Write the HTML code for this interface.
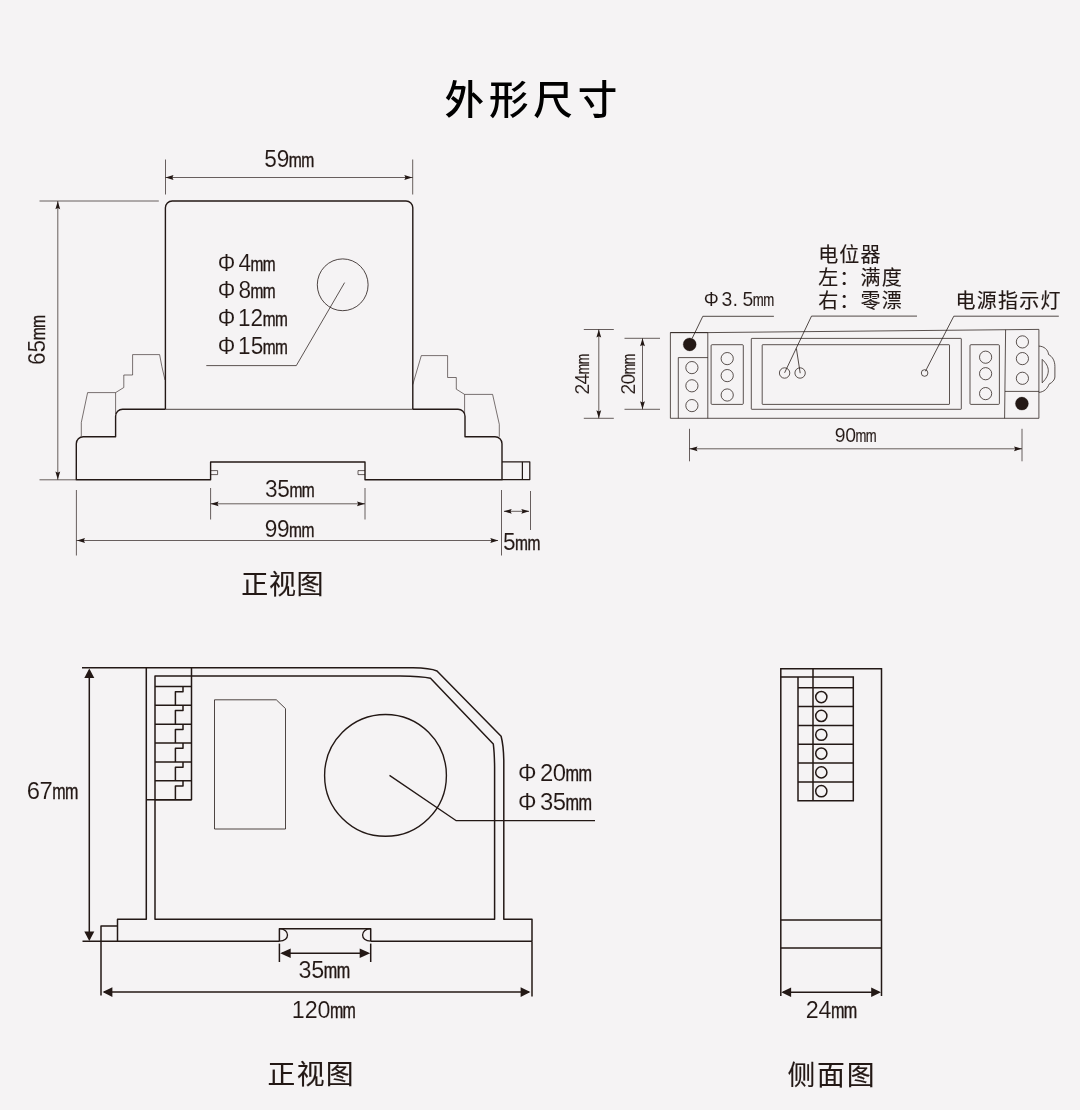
<!DOCTYPE html>
<html lang="zh-CN">
<head>
<meta charset="utf-8">
<title>外形尺寸</title>
<style>
html,body{margin:0;padding:0;background:#f5f3f4;}
body{width:1080px;height:1110px;overflow:hidden;}
svg{display:block;font-family:"Liberation Sans","Noto Sans CJK SC",sans-serif;will-change:transform;}
</style>
</head>
<body>
<svg width="1080" height="1110" viewBox="0 0 1080 1110">
<rect x="0" y="0" width="1080" height="1110" fill="#f5f3f4"/>
<text x="444.5" y="113.7" font-size="39.6" letter-spacing="4.8" fill="#000" font-weight="500">外形尺寸</text>
<g stroke-linecap="butt" stroke-linejoin="round">
<path d="M165.4,409.3 V207.8 A6.8,6.8 0 0 1 172.2,201 H406 A6.8,6.8 0 0 1 412.8,207.8 V409.3" fill="none" stroke="#231815" stroke-width="1.4" />
<path d="M165.4,409.3 H122.6 A7,7 0 0 0 115.6,416.3 V436.8 H83.3 A7,7 0 0 0 76.3,443.8 V479.8 H210.6 V462 H365 V479.8 H502 V443.8 A7,7 0 0 0 495,436.8 H465 V416.3 A7,7 0 0 0 458,409.3 H412.8" fill="none" stroke="#231815" stroke-width="1.4" />
<line x1="165.4" y1="409.3" x2="412.8" y2="409.3" stroke="#231815" stroke-width="0.8" />
<path d="M502,461.9 H529.8 V479.5 H502" fill="none" stroke="#231815" stroke-width="1.25" />
<line x1="522.4" y1="461.9" x2="522.4" y2="479.5" stroke="#231815" stroke-width="1.25" />
<path d="M210.6,470.6 H217.6 V474.6 H210.6" fill="none" stroke="#231815" stroke-width="0.68" />
<path d="M365,470.6 H358 V474.6 H365" fill="none" stroke="#231815" stroke-width="0.68" />
<path d="M165,380 Q161.5,366 159.6,354.6 H132.6 V375 H123.8 V387.5 L115.6,392.6 H87.6 L81.3,422.5 V436.2" fill="none" stroke="#231815" stroke-width="0.6" />
<line x1="115.6" y1="392.6" x2="115.6" y2="414" stroke="#231815" stroke-width="0.6" />
<path d="M412.8,384.5 L421.3,355.6 H447.6 V377.5 H456.3 V389.2 L464.6,394.4 H492.6 L499.3,424.3 V436.8" fill="none" stroke="#231815" stroke-width="0.6" />
<line x1="464.6" y1="394.4" x2="464.6" y2="414" stroke="#231815" stroke-width="0.6" />
<ellipse cx="342.7" cy="284.8" rx="25.4" ry="25.9" fill="none" stroke="#231815" stroke-width="0.8"/>
<path d="M344.6,282.6 L296.3,365.6 H206.3" fill="none" stroke="#231815" stroke-width="0.7300000000000001" />
<line x1="165.5" y1="159.5" x2="165.5" y2="194.5" stroke="#231815" stroke-width="0.68" />
<line x1="412.7" y1="159.5" x2="412.7" y2="194.5" stroke="#231815" stroke-width="0.68" />
<line x1="165.5" y1="177.5" x2="412.7" y2="177.5" stroke="#231815" stroke-width="0.68" />
<polygon points="165.50,177.50 173.50,175.10 172.30,177.50 173.50,179.90" fill="#231815"/>
<polygon points="412.30,177.50 404.30,179.90 405.50,177.50 404.30,175.10" fill="#231815"/>
<line x1="39.5" y1="201" x2="158.8" y2="201" stroke="#231815" stroke-width="0.68" />
<line x1="39.5" y1="479.8" x2="76" y2="479.8" stroke="#231815" stroke-width="0.68" />
<line x1="57.8" y1="201" x2="57.8" y2="479.8" stroke="#231815" stroke-width="0.68" />
<polygon points="57.80,201.20 60.20,209.20 57.80,208.00 55.40,209.20" fill="#231815"/>
<polygon points="57.80,479.60 55.40,471.60 57.80,472.80 60.20,471.60" fill="#231815"/>
<line x1="210.6" y1="488" x2="210.6" y2="519.5" stroke="#231815" stroke-width="0.68" />
<line x1="365" y1="488" x2="365" y2="519.5" stroke="#231815" stroke-width="0.68" />
<line x1="210.6" y1="503.8" x2="365" y2="503.8" stroke="#231815" stroke-width="0.68" />
<polygon points="210.60,503.80 218.60,501.40 217.40,503.80 218.60,506.20" fill="#231815"/>
<polygon points="365.00,503.80 357.00,506.20 358.20,503.80 357.00,501.40" fill="#231815"/>
<line x1="76.4" y1="490" x2="76.4" y2="555.5" stroke="#231815" stroke-width="0.68" />
<line x1="501.5" y1="490" x2="501.5" y2="555.5" stroke="#231815" stroke-width="0.68" />
<line x1="76.4" y1="540.5" x2="498" y2="540.5" stroke="#231815" stroke-width="0.68" />
<polygon points="77.00,540.50 85.00,538.10 83.80,540.50 85.00,542.90" fill="#231815"/>
<polygon points="498.30,540.50 490.30,542.90 491.50,540.50 490.30,538.10" fill="#231815"/>
<line x1="530.5" y1="491" x2="530.5" y2="530" stroke="#231815" stroke-width="0.68" />
<line x1="504" y1="511.3" x2="529" y2="511.3" stroke="#231815" stroke-width="0.68" />
<polygon points="503.70,511.30 511.70,508.90 510.50,511.30 511.70,513.70" fill="#231815"/>
<polygon points="529.30,511.30 521.30,513.70 522.50,511.30 521.30,508.90" fill="#231815"/>
</g>
<text y="166.7" font-size="23.3" fill="#231815"><tspan x="264.34" textLength="12.57" lengthAdjust="spacingAndGlyphs" stroke="#f5f3f4" stroke-width="0.1">5</tspan><tspan x="276.72" textLength="12.57" lengthAdjust="spacingAndGlyphs" stroke="#f5f3f4" stroke-width="0.1">9</tspan><tspan x="288.87" textLength="13.05" lengthAdjust="spacingAndGlyphs" font-size="20.62" stroke="#231815" stroke-width="0.42">m</tspan><tspan x="301.27" textLength="13.05" lengthAdjust="spacingAndGlyphs" font-size="20.62" stroke="#231815" stroke-width="0.42">m</tspan></text>
<text y="364.8" font-size="23.3" fill="#231815" transform="rotate(-90 45 364.8)"><tspan x="44.84" textLength="12.57" lengthAdjust="spacingAndGlyphs" stroke="#f5f3f4" stroke-width="0.1">6</tspan><tspan x="57.34" textLength="12.57" lengthAdjust="spacingAndGlyphs" stroke="#f5f3f4" stroke-width="0.1">5</tspan><tspan x="69.47" textLength="13.05" lengthAdjust="spacingAndGlyphs" font-size="20.62" stroke="#231815" stroke-width="0.42">m</tspan><tspan x="81.87" textLength="13.05" lengthAdjust="spacingAndGlyphs" font-size="20.62" stroke="#231815" stroke-width="0.42">m</tspan></text>
<text y="271.1" font-size="23.3" fill="#231815"><tspan x="217.63" textLength="17.53" lengthAdjust="spacingAndGlyphs" stroke="#f5f3f4" stroke-width="0.1">Φ</tspan><tspan x="238.49" textLength="12.57" lengthAdjust="spacingAndGlyphs" stroke="#f5f3f4" stroke-width="0.1">4</tspan><tspan x="250.48" textLength="12.84" lengthAdjust="spacingAndGlyphs" font-size="20.62" stroke="#231815" stroke-width="0.42">m</tspan><tspan x="262.68" textLength="12.84" lengthAdjust="spacingAndGlyphs" font-size="20.62" stroke="#231815" stroke-width="0.42">m</tspan></text>
<text y="298.3" font-size="23.3" fill="#231815"><tspan x="217.63" textLength="17.53" lengthAdjust="spacingAndGlyphs" stroke="#f5f3f4" stroke-width="0.1">Φ</tspan><tspan x="238.42" textLength="12.57" lengthAdjust="spacingAndGlyphs" stroke="#f5f3f4" stroke-width="0.1">8</tspan><tspan x="250.48" textLength="12.84" lengthAdjust="spacingAndGlyphs" font-size="20.62" stroke="#231815" stroke-width="0.42">m</tspan><tspan x="262.68" textLength="12.84" lengthAdjust="spacingAndGlyphs" font-size="20.62" stroke="#231815" stroke-width="0.42">m</tspan></text>
<text y="326.1" font-size="23.3" fill="#231815"><tspan x="217.63" textLength="17.53" lengthAdjust="spacingAndGlyphs" stroke="#f5f3f4" stroke-width="0.1">Φ</tspan><tspan x="238.11" textLength="12.57" lengthAdjust="spacingAndGlyphs" stroke="#f5f3f4" stroke-width="0.1">1</tspan><tspan x="250.62" textLength="12.57" lengthAdjust="spacingAndGlyphs" stroke="#f5f3f4" stroke-width="0.1">2</tspan><tspan x="262.68" textLength="12.84" lengthAdjust="spacingAndGlyphs" font-size="20.62" stroke="#231815" stroke-width="0.42">m</tspan><tspan x="274.88" textLength="12.84" lengthAdjust="spacingAndGlyphs" font-size="20.62" stroke="#231815" stroke-width="0.42">m</tspan></text>
<text y="353.9" font-size="23.3" fill="#231815"><tspan x="217.63" textLength="17.53" lengthAdjust="spacingAndGlyphs" stroke="#f5f3f4" stroke-width="0.1">Φ</tspan><tspan x="238.11" textLength="12.57" lengthAdjust="spacingAndGlyphs" stroke="#f5f3f4" stroke-width="0.1">1</tspan><tspan x="250.64" textLength="12.57" lengthAdjust="spacingAndGlyphs" stroke="#f5f3f4" stroke-width="0.1">5</tspan><tspan x="262.68" textLength="12.84" lengthAdjust="spacingAndGlyphs" font-size="20.62" stroke="#231815" stroke-width="0.42">m</tspan><tspan x="274.88" textLength="12.84" lengthAdjust="spacingAndGlyphs" font-size="20.62" stroke="#231815" stroke-width="0.42">m</tspan></text>
<text y="497.4" font-size="23.3" fill="#231815"><tspan x="265.03" textLength="12.57" lengthAdjust="spacingAndGlyphs" stroke="#f5f3f4" stroke-width="0.1">3</tspan><tspan x="277.29" textLength="12.57" lengthAdjust="spacingAndGlyphs" stroke="#f5f3f4" stroke-width="0.1">5</tspan><tspan x="289.38" textLength="12.94" lengthAdjust="spacingAndGlyphs" font-size="20.62" stroke="#231815" stroke-width="0.42">m</tspan><tspan x="301.68" textLength="12.94" lengthAdjust="spacingAndGlyphs" font-size="20.62" stroke="#231815" stroke-width="0.42">m</tspan></text>
<text y="536.6" font-size="23.3" fill="#231815"><tspan x="264.67" textLength="12.57" lengthAdjust="spacingAndGlyphs" stroke="#f5f3f4" stroke-width="0.1">9</tspan><tspan x="276.97" textLength="12.57" lengthAdjust="spacingAndGlyphs" stroke="#f5f3f4" stroke-width="0.1">9</tspan><tspan x="289.08" textLength="12.94" lengthAdjust="spacingAndGlyphs" font-size="20.62" stroke="#231815" stroke-width="0.42">m</tspan><tspan x="301.38" textLength="12.94" lengthAdjust="spacingAndGlyphs" font-size="20.62" stroke="#231815" stroke-width="0.42">m</tspan></text>
<text y="549.5" font-size="23.3" fill="#231815"><tspan x="502.99" textLength="12.57" lengthAdjust="spacingAndGlyphs" stroke="#f5f3f4" stroke-width="0.1">5</tspan><tspan x="515.08" textLength="12.94" lengthAdjust="spacingAndGlyphs" font-size="20.62" stroke="#231815" stroke-width="0.42">m</tspan><tspan x="527.38" textLength="12.94" lengthAdjust="spacingAndGlyphs" font-size="20.62" stroke="#231815" stroke-width="0.42">m</tspan></text>
<text x="241.2" y="593.9" font-size="27" letter-spacing="0.7" fill="#231815" font-weight="400" stroke="#231815" stroke-width="0.14" stroke-linejoin="round">正视图</text>
<g stroke-linejoin="round">
<path d="M670.4,332.6 V418.3 H1038.9 V329.4 L707.8,332.6 Z" fill="none" stroke="#231815" stroke-width="0.74" />
<line x1="707.8" y1="332.6" x2="707.8" y2="418.3" stroke="#231815" stroke-width="0.74" />
<line x1="670.4" y1="332.6" x2="707.8" y2="332.6" stroke="#231815" stroke-width="0.74" />
<path d="M678.3,418.3 V357.6 H707.8" fill="none" stroke="#231815" stroke-width="0.74" />
<circle cx="691.9" cy="367.6" r="6.1" fill="none" stroke="#231815" stroke-width="0.74"/>
<circle cx="691.9" cy="385.8" r="6.1" fill="none" stroke="#231815" stroke-width="0.74"/>
<circle cx="691.9" cy="405.6" r="6.1" fill="none" stroke="#231815" stroke-width="0.74"/>
<circle cx="689.7" cy="344.4" r="6.5" fill="#231815" stroke="#231815" stroke-width="0.3"/>
<rect x="711.1" y="344.7" width="32.2" height="59.7" rx="1" fill="none" stroke="#231815" stroke-width="0.74"/>
<circle cx="727.2" cy="358.6" r="6.1" fill="none" stroke="#231815" stroke-width="0.74"/>
<circle cx="727.2" cy="375.6" r="6.1" fill="none" stroke="#231815" stroke-width="0.74"/>
<circle cx="727.2" cy="395" r="6.1" fill="none" stroke="#231815" stroke-width="0.74"/>
<rect x="751.3" y="338.4" width="210" height="70.9" rx="0.5" fill="none" stroke="#231815" stroke-width="0.74"/>
<rect x="762.2" y="344.7" width="187.3" height="59.7" rx="0.5" fill="none" stroke="#231815" stroke-width="0.74"/>
<circle cx="784.6" cy="373" r="5.2" fill="none" stroke="#231815" stroke-width="0.74"/>
<circle cx="800.1" cy="373" r="5.2" fill="none" stroke="#231815" stroke-width="0.74"/>
<circle cx="924.6" cy="373" r="3.3" fill="none" stroke="#231815" stroke-width="0.74"/>
<rect x="970" y="344.7" width="29.4" height="59.7" rx="1" fill="none" stroke="#231815" stroke-width="0.74"/>
<circle cx="985.6" cy="357.2" r="6.1" fill="none" stroke="#231815" stroke-width="0.74"/>
<circle cx="985.6" cy="373.7" r="6.1" fill="none" stroke="#231815" stroke-width="0.74"/>
<circle cx="985.6" cy="393.6" r="6.1" fill="none" stroke="#231815" stroke-width="0.74"/>
<line x1="1005.6" y1="329.8" x2="1004.6" y2="418.3" stroke="#231815" stroke-width="0.74" />
<line x1="1005" y1="391.4" x2="1038.9" y2="391.4" stroke="#231815" stroke-width="0.74" />
<circle cx="1022.4" cy="341.9" r="6.1" fill="none" stroke="#231815" stroke-width="0.74"/>
<circle cx="1022.4" cy="358.6" r="6.1" fill="none" stroke="#231815" stroke-width="0.74"/>
<circle cx="1022.4" cy="378.3" r="6.1" fill="none" stroke="#231815" stroke-width="0.74"/>
<circle cx="1021.9" cy="403.6" r="6.5" fill="#231815" stroke="#231815" stroke-width="0.3"/>
<path d="M1038.9,346.1 C1044,346.3 1048,349.5 1048.6,354.6 C1052.5,356.5 1054.9,361 1054.9,366.5 V377 C1054.9,379.5 1052.5,382.5 1049,384.2 C1047.5,388.5 1044,392 1038.9,392.4" fill="none" stroke="#231815" stroke-width="0.74" />
<path d="M1042.2,359.4 V382.8 C1046.5,378.5 1048.3,374.5 1048.3,370.8 C1048.3,367 1046.5,363.5 1042.2,359.4 Z" fill="none" stroke="#231815" stroke-width="0.74" />
<path d="M773.9,316.3 H702.8 L692.2,338.3" fill="none" stroke="#231815" stroke-width="0.78" />
<path d="M917,316.1 H811.5 L784.6,372.8" fill="none" stroke="#231815" stroke-width="0.78" />
<line x1="796.4" y1="348.5" x2="800.2" y2="373.2" stroke="#231815" stroke-width="0.78" />
<path d="M1058.8,316.2 H953.8 L925.4,371.3" fill="none" stroke="#231815" stroke-width="0.78" />
<line x1="583.8" y1="329.5" x2="613.8" y2="329.5" stroke="#231815" stroke-width="0.68" />
<line x1="583.8" y1="418.3" x2="613.8" y2="418.3" stroke="#231815" stroke-width="0.68" />
<line x1="598.8" y1="329.5" x2="598.8" y2="418.3" stroke="#231815" stroke-width="0.68" />
<polygon points="598.80,329.50 601.20,337.50 598.80,336.30 596.40,337.50" fill="#231815"/>
<polygon points="598.80,418.30 596.40,410.30 598.80,411.50 601.20,410.30" fill="#231815"/>
<line x1="624.5" y1="338.3" x2="660" y2="338.3" stroke="#231815" stroke-width="0.68" />
<line x1="624.5" y1="409.3" x2="660" y2="409.3" stroke="#231815" stroke-width="0.68" />
<line x1="642.5" y1="338.3" x2="642.5" y2="409.3" stroke="#231815" stroke-width="0.68" />
<polygon points="642.50,338.30 644.90,346.30 642.50,345.10 640.10,346.30" fill="#231815"/>
<polygon points="642.50,409.30 640.10,401.30 642.50,402.50 644.90,401.30" fill="#231815"/>
<line x1="689.5" y1="428.8" x2="689.5" y2="461.3" stroke="#231815" stroke-width="0.68" />
<line x1="1022" y1="428.8" x2="1022" y2="461.3" stroke="#231815" stroke-width="0.68" />
<line x1="689.5" y1="448.8" x2="1022" y2="448.8" stroke="#231815" stroke-width="0.68" />
<polygon points="689.50,448.80 697.50,446.40 696.30,448.80 697.50,451.20" fill="#231815"/>
<polygon points="1022.00,448.80 1014.00,451.20 1015.20,448.80 1014.00,446.40" fill="#231815"/>
</g>
<text y="394.1" font-size="20" fill="#231815" transform="rotate(-90 588.6 394.1)"><tspan x="588.21" textLength="10.79" lengthAdjust="spacingAndGlyphs" stroke="#f5f3f4" stroke-width="0.1">2</tspan><tspan x="598.27" textLength="10.79" lengthAdjust="spacingAndGlyphs" stroke="#f5f3f4" stroke-width="0.1">4</tspan><tspan x="608.34" textLength="10.52" lengthAdjust="spacingAndGlyphs" font-size="17.70" stroke="#231815" stroke-width="0.2">m</tspan><tspan x="618.34" textLength="10.52" lengthAdjust="spacingAndGlyphs" font-size="17.70" stroke="#231815" stroke-width="0.2">m</tspan></text>
<text y="394.1" font-size="20" fill="#231815" transform="rotate(-90 634.8 394.1)"><tspan x="634.41" textLength="10.79" lengthAdjust="spacingAndGlyphs" stroke="#f5f3f4" stroke-width="0.1">2</tspan><tspan x="644.41" textLength="10.79" lengthAdjust="spacingAndGlyphs" stroke="#f5f3f4" stroke-width="0.1">0</tspan><tspan x="654.54" textLength="10.52" lengthAdjust="spacingAndGlyphs" font-size="17.70" stroke="#231815" stroke-width="0.2">m</tspan><tspan x="664.54" textLength="10.52" lengthAdjust="spacingAndGlyphs" font-size="17.70" stroke="#231815" stroke-width="0.2">m</tspan></text>
<text y="306.4" font-size="20" fill="#231815"><tspan x="703.72" textLength="15.05" lengthAdjust="spacingAndGlyphs" stroke="#f5f3f4" stroke-width="0.1">Φ</tspan><tspan x="721.59" textLength="10.79" lengthAdjust="spacingAndGlyphs" stroke="#f5f3f4" stroke-width="0.1">3</tspan><tspan x="732.62" textLength="5.56" lengthAdjust="spacingAndGlyphs" stroke="#f5f3f4" stroke-width="0.1">.</tspan><tspan x="742.45" textLength="10.79" lengthAdjust="spacingAndGlyphs" stroke="#f5f3f4" stroke-width="0.1">5</tspan><tspan x="752.77" textLength="10.99" lengthAdjust="spacingAndGlyphs" font-size="17.70" stroke="#231815" stroke-width="0.2">m</tspan><tspan x="763.22" textLength="10.99" lengthAdjust="spacingAndGlyphs" font-size="17.70" stroke="#231815" stroke-width="0.2">m</tspan></text>
<text y="441.8" font-size="20" fill="#231815"><tspan x="834.79" textLength="10.79" lengthAdjust="spacingAndGlyphs" stroke="#f5f3f4" stroke-width="0.1">9</tspan><tspan x="845.13" textLength="10.79" lengthAdjust="spacingAndGlyphs" stroke="#f5f3f4" stroke-width="0.1">0</tspan><tspan x="855.43" textLength="10.89" lengthAdjust="spacingAndGlyphs" font-size="17.70" stroke="#231815" stroke-width="0.2">m</tspan><tspan x="865.78" textLength="10.89" lengthAdjust="spacingAndGlyphs" font-size="17.70" stroke="#231815" stroke-width="0.2">m</tspan></text>
<text x="818.2" y="261.6" font-size="20" letter-spacing="1.15" fill="#231815" font-weight="400" stroke="#231815" stroke-width="0.14" stroke-linejoin="round">电位器</text>
<text x="818.2" y="284.9" font-size="20" letter-spacing="1.15" fill="#231815" font-weight="400" stroke="#231815" stroke-width="0.14" stroke-linejoin="round">左：满度</text>
<text x="818.2" y="308.2" font-size="20" letter-spacing="1.15" fill="#231815" font-weight="400" stroke="#231815" stroke-width="0.14" stroke-linejoin="round">右：零漂</text>
<text x="955.6" y="307.6" font-size="20" letter-spacing="1.2" fill="#231815" font-weight="400" stroke="#231815" stroke-width="0.14" stroke-linejoin="round">电源指示灯</text>
<g stroke-linejoin="round" transform="translate(0,0.4)">
<path d="M82,667.4 H413 Q430,667.6 437,670.6 L501.1,735.9 Q503.5,745 503.8,760 V918.8 H532 V940.8" fill="none" stroke="#231815" stroke-width="1.5" />
<path d="M146.3,667.4 V918.8 H117.5 V940.8" fill="none" stroke="#231815" stroke-width="1.5" />
<path d="M155,918.8 V675.6 H400 Q422,675.8 430.5,677.9 L493.3,743.6 Q494.4,752 494.6,766 V918.8 Z" fill="none" stroke="#231815" stroke-width="1.5" />
<path d="M82.5,940.8 H279.5" fill="none" stroke="#231815" stroke-width="1.5" />
<path d="M279.4,940.8 V928.3 H370.7 V940.8" fill="none" stroke="#231815" stroke-width="1.5" />
<line x1="279.4" y1="943.2" x2="279.4" y2="961.6" stroke="#231815" stroke-width="1.5" />
<line x1="370.7" y1="943.2" x2="370.7" y2="961.6" stroke="#231815" stroke-width="1.5" />
<path d="M370.8,940.8 H532" fill="none" stroke="#231815" stroke-width="1.5" />
<path d="M279.4,928.3 C290.2,928.5 290.2,940.6 279.4,940.8" fill="none" stroke="#231815" stroke-width="1.35" />
<path d="M370.7,928.3 C359.9,928.5 359.9,940.6 370.7,940.8" fill="none" stroke="#231815" stroke-width="1.35" />
<path d="M117.5,925.6 H101 V995" fill="none" stroke="#231815" stroke-width="1.5" />
<line x1="532" y1="940.8" x2="532" y2="996" stroke="#231815" stroke-width="1.5" />
<path d="M146.3,799.3 H191.5 V667.4" fill="none" stroke="#231815" stroke-width="1.5" />
<line x1="155" y1="686.1" x2="191.3" y2="686.1" stroke="#231815" stroke-width="1.5" />
<line x1="155" y1="704.97" x2="191.3" y2="704.97" stroke="#231815" stroke-width="1.5" />
<line x1="155" y1="723.84" x2="191.3" y2="723.84" stroke="#231815" stroke-width="1.5" />
<line x1="155" y1="742.71" x2="191.3" y2="742.71" stroke="#231815" stroke-width="1.5" />
<line x1="155" y1="761.58" x2="191.3" y2="761.58" stroke="#231815" stroke-width="1.5" />
<line x1="155" y1="780.45" x2="191.3" y2="780.45" stroke="#231815" stroke-width="1.5" />
<line x1="155" y1="799.32" x2="191.3" y2="799.32" stroke="#231815" stroke-width="1.5" />
<path d="M175.4,704.97 V691.30 H183 V686.10" fill="none" stroke="#231815" stroke-width="1.5" />
<path d="M175.4,723.84 V710.17 H183 V704.97" fill="none" stroke="#231815" stroke-width="1.5" />
<path d="M175.4,742.71 V729.04 H183 V723.84" fill="none" stroke="#231815" stroke-width="1.5" />
<path d="M175.4,761.58 V747.91 H183 V742.71" fill="none" stroke="#231815" stroke-width="1.5" />
<path d="M175.4,780.45 V766.78 H183 V761.58" fill="none" stroke="#231815" stroke-width="1.5" />
<path d="M175.4,799.32 V785.65 H183 V780.45" fill="none" stroke="#231815" stroke-width="1.5" />
<path d="M214.5,699.4 H276.3 L285.5,708.2 V828.6 H214.5 Z" fill="none" stroke="#231815" stroke-width="0.8" />
<circle cx="385.5" cy="775" r="60.9" fill="none" stroke="#231815" stroke-width="1.4"/>
<path d="M389.5,775 L456.3,820.3 H595" fill="none" stroke="#231815" stroke-width="1.3" />
<line x1="89.3" y1="670" x2="89.3" y2="938" stroke="#231815" stroke-width="1.5" />
<polygon points="89.30,668.00 94.30,677.60 89.30,677.60 84.30,677.60" fill="#231815"/>
<polygon points="89.30,940.60 84.30,931.00 89.30,931.00 94.30,931.00" fill="#231815"/>
<line x1="282" y1="952.8" x2="368" y2="952.8" stroke="#231815" stroke-width="1.5" />
<polygon points="280.20,952.80 290.70,948.00 290.70,952.80 290.70,957.60" fill="#231815"/>
<polygon points="370.20,952.80 359.70,957.60 359.70,952.80 359.70,948.00" fill="#231815"/>
<line x1="104" y1="991.7" x2="529" y2="991.7" stroke="#231815" stroke-width="1.5" />
<polygon points="102.60,991.70 112.40,986.80 112.40,991.70 112.40,996.60" fill="#231815"/>
<polygon points="530.40,991.70 520.60,996.60 520.60,991.70 520.60,986.80" fill="#231815"/>
</g>
<text y="799.2" font-size="24.6" fill="#231815"><tspan x="26.83" textLength="13.27" lengthAdjust="spacingAndGlyphs" stroke="#f5f3f4" stroke-width="0.1">6</tspan><tspan x="39.60" textLength="13.27" lengthAdjust="spacingAndGlyphs" stroke="#f5f3f4" stroke-width="0.1">7</tspan><tspan x="52.26" textLength="13.36" lengthAdjust="spacingAndGlyphs" font-size="21.77" stroke="#231815" stroke-width="0.42">m</tspan><tspan x="64.96" textLength="13.36" lengthAdjust="spacingAndGlyphs" font-size="21.77" stroke="#231815" stroke-width="0.42">m</tspan></text>
<text y="781.2" font-size="24.6" fill="#231815"><tspan x="517.94" textLength="18.51" lengthAdjust="spacingAndGlyphs" stroke="#f5f3f4" stroke-width="0.1">Φ</tspan><tspan x="539.91" textLength="13.27" lengthAdjust="spacingAndGlyphs" stroke="#f5f3f4" stroke-width="0.1">2</tspan><tspan x="552.81" textLength="13.27" lengthAdjust="spacingAndGlyphs" stroke="#f5f3f4" stroke-width="0.1">0</tspan><tspan x="565.56" textLength="13.57" lengthAdjust="spacingAndGlyphs" font-size="21.77" stroke="#231815" stroke-width="0.42">m</tspan><tspan x="578.46" textLength="13.57" lengthAdjust="spacingAndGlyphs" font-size="21.77" stroke="#231815" stroke-width="0.42">m</tspan></text>
<text y="809.8" font-size="24.6" fill="#231815"><tspan x="517.94" textLength="18.51" lengthAdjust="spacingAndGlyphs" stroke="#f5f3f4" stroke-width="0.1">Φ</tspan><tspan x="539.98" textLength="13.27" lengthAdjust="spacingAndGlyphs" stroke="#f5f3f4" stroke-width="0.1">3</tspan><tspan x="552.84" textLength="13.27" lengthAdjust="spacingAndGlyphs" stroke="#f5f3f4" stroke-width="0.1">5</tspan><tspan x="565.56" textLength="13.57" lengthAdjust="spacingAndGlyphs" font-size="21.77" stroke="#231815" stroke-width="0.42">m</tspan><tspan x="578.46" textLength="13.57" lengthAdjust="spacingAndGlyphs" font-size="21.77" stroke="#231815" stroke-width="0.42">m</tspan></text>
<text y="978" font-size="24" fill="#231815"><tspan x="298.59" textLength="12.95" lengthAdjust="spacingAndGlyphs" stroke="#f5f3f4" stroke-width="0.1">3</tspan><tspan x="311.35" textLength="12.95" lengthAdjust="spacingAndGlyphs" stroke="#f5f3f4" stroke-width="0.1">5</tspan><tspan x="323.86" textLength="13.47" lengthAdjust="spacingAndGlyphs" font-size="21.24" stroke="#231815" stroke-width="0.42">m</tspan><tspan x="336.66" textLength="13.47" lengthAdjust="spacingAndGlyphs" font-size="21.24" stroke="#231815" stroke-width="0.42">m</tspan></text>
<text y="1017.8" font-size="24" fill="#231815"><tspan x="291.83" textLength="12.95" lengthAdjust="spacingAndGlyphs" stroke="#f5f3f4" stroke-width="0.1">1</tspan><tspan x="304.80" textLength="12.95" lengthAdjust="spacingAndGlyphs" stroke="#f5f3f4" stroke-width="0.1">2</tspan><tspan x="317.45" textLength="12.95" lengthAdjust="spacingAndGlyphs" stroke="#f5f3f4" stroke-width="0.1">0</tspan><tspan x="329.92" textLength="13.31" lengthAdjust="spacingAndGlyphs" font-size="21.24" stroke="#231815" stroke-width="0.42">m</tspan><tspan x="342.57" textLength="13.31" lengthAdjust="spacingAndGlyphs" font-size="21.24" stroke="#231815" stroke-width="0.42">m</tspan></text>
<text x="267.6" y="1084.1" font-size="27.8" letter-spacing="1.3" fill="#231815" font-weight="400" stroke="#231815" stroke-width="0.14" stroke-linejoin="round">正视图</text>
<g stroke-linejoin="miter">
<path d="M780.8,996 V668.8 H881.5 V996" fill="none" stroke="#231815" stroke-width="1.5" />
<line x1="780.8" y1="920" x2="881.5" y2="920" stroke="#231815" stroke-width="1.5" />
<line x1="780.8" y1="948" x2="881.5" y2="948" stroke="#231815" stroke-width="1.5" />
<path d="M780.8,677 H853.3 V800.7 H798 V677" fill="none" stroke="#231815" stroke-width="1.5" />
<line x1="813" y1="668.8" x2="813" y2="800.7" stroke="#231815" stroke-width="1.5" />
<line x1="798" y1="687.8" x2="853.3" y2="687.8" stroke="#231815" stroke-width="1.5" />
<circle cx="821.3" cy="697.0999999999999" r="5.6" fill="none" stroke="#231815" stroke-width="1.5"/>
<line x1="798" y1="706.62" x2="853.3" y2="706.62" stroke="#231815" stroke-width="1.5" />
<circle cx="821.3" cy="715.92" r="5.6" fill="none" stroke="#231815" stroke-width="1.5"/>
<line x1="798" y1="725.4399999999999" x2="853.3" y2="725.4399999999999" stroke="#231815" stroke-width="1.5" />
<circle cx="821.3" cy="734.7399999999999" r="5.6" fill="none" stroke="#231815" stroke-width="1.5"/>
<line x1="798" y1="744.26" x2="853.3" y2="744.26" stroke="#231815" stroke-width="1.5" />
<circle cx="821.3" cy="753.56" r="5.6" fill="none" stroke="#231815" stroke-width="1.5"/>
<line x1="798" y1="763.0799999999999" x2="853.3" y2="763.0799999999999" stroke="#231815" stroke-width="1.5" />
<circle cx="821.3" cy="772.3799999999999" r="5.6" fill="none" stroke="#231815" stroke-width="1.5"/>
<line x1="798" y1="781.9" x2="853.3" y2="781.9" stroke="#231815" stroke-width="1.5" />
<circle cx="821.3" cy="791.1999999999999" r="5.6" fill="none" stroke="#231815" stroke-width="1.5"/>
<line x1="783" y1="992.3" x2="879" y2="992.3" stroke="#231815" stroke-width="1.5" />
<polygon points="781.30,992.30 791.10,987.60 791.10,992.30 791.10,997.00" fill="#231815"/>
<polygon points="881.00,992.30 871.20,997.00 871.20,992.30 871.20,987.60" fill="#231815"/>
</g>
<text y="1018.2" font-size="24" fill="#231815"><tspan x="805.73" textLength="12.95" lengthAdjust="spacingAndGlyphs" stroke="#f5f3f4" stroke-width="0.1">2</tspan><tspan x="818.60" textLength="12.95" lengthAdjust="spacingAndGlyphs" stroke="#f5f3f4" stroke-width="0.1">4</tspan><tspan x="831.06" textLength="13.47" lengthAdjust="spacingAndGlyphs" font-size="21.24" stroke="#231815" stroke-width="0.42">m</tspan><tspan x="843.86" textLength="13.47" lengthAdjust="spacingAndGlyphs" font-size="21.24" stroke="#231815" stroke-width="0.42">m</tspan></text>
<text x="787.4" y="1084.5" font-size="27.8" letter-spacing="1.9" fill="#231815" font-weight="400" stroke="#231815" stroke-width="0.14" stroke-linejoin="round">侧面图</text>
</svg>
</body>
</html>
